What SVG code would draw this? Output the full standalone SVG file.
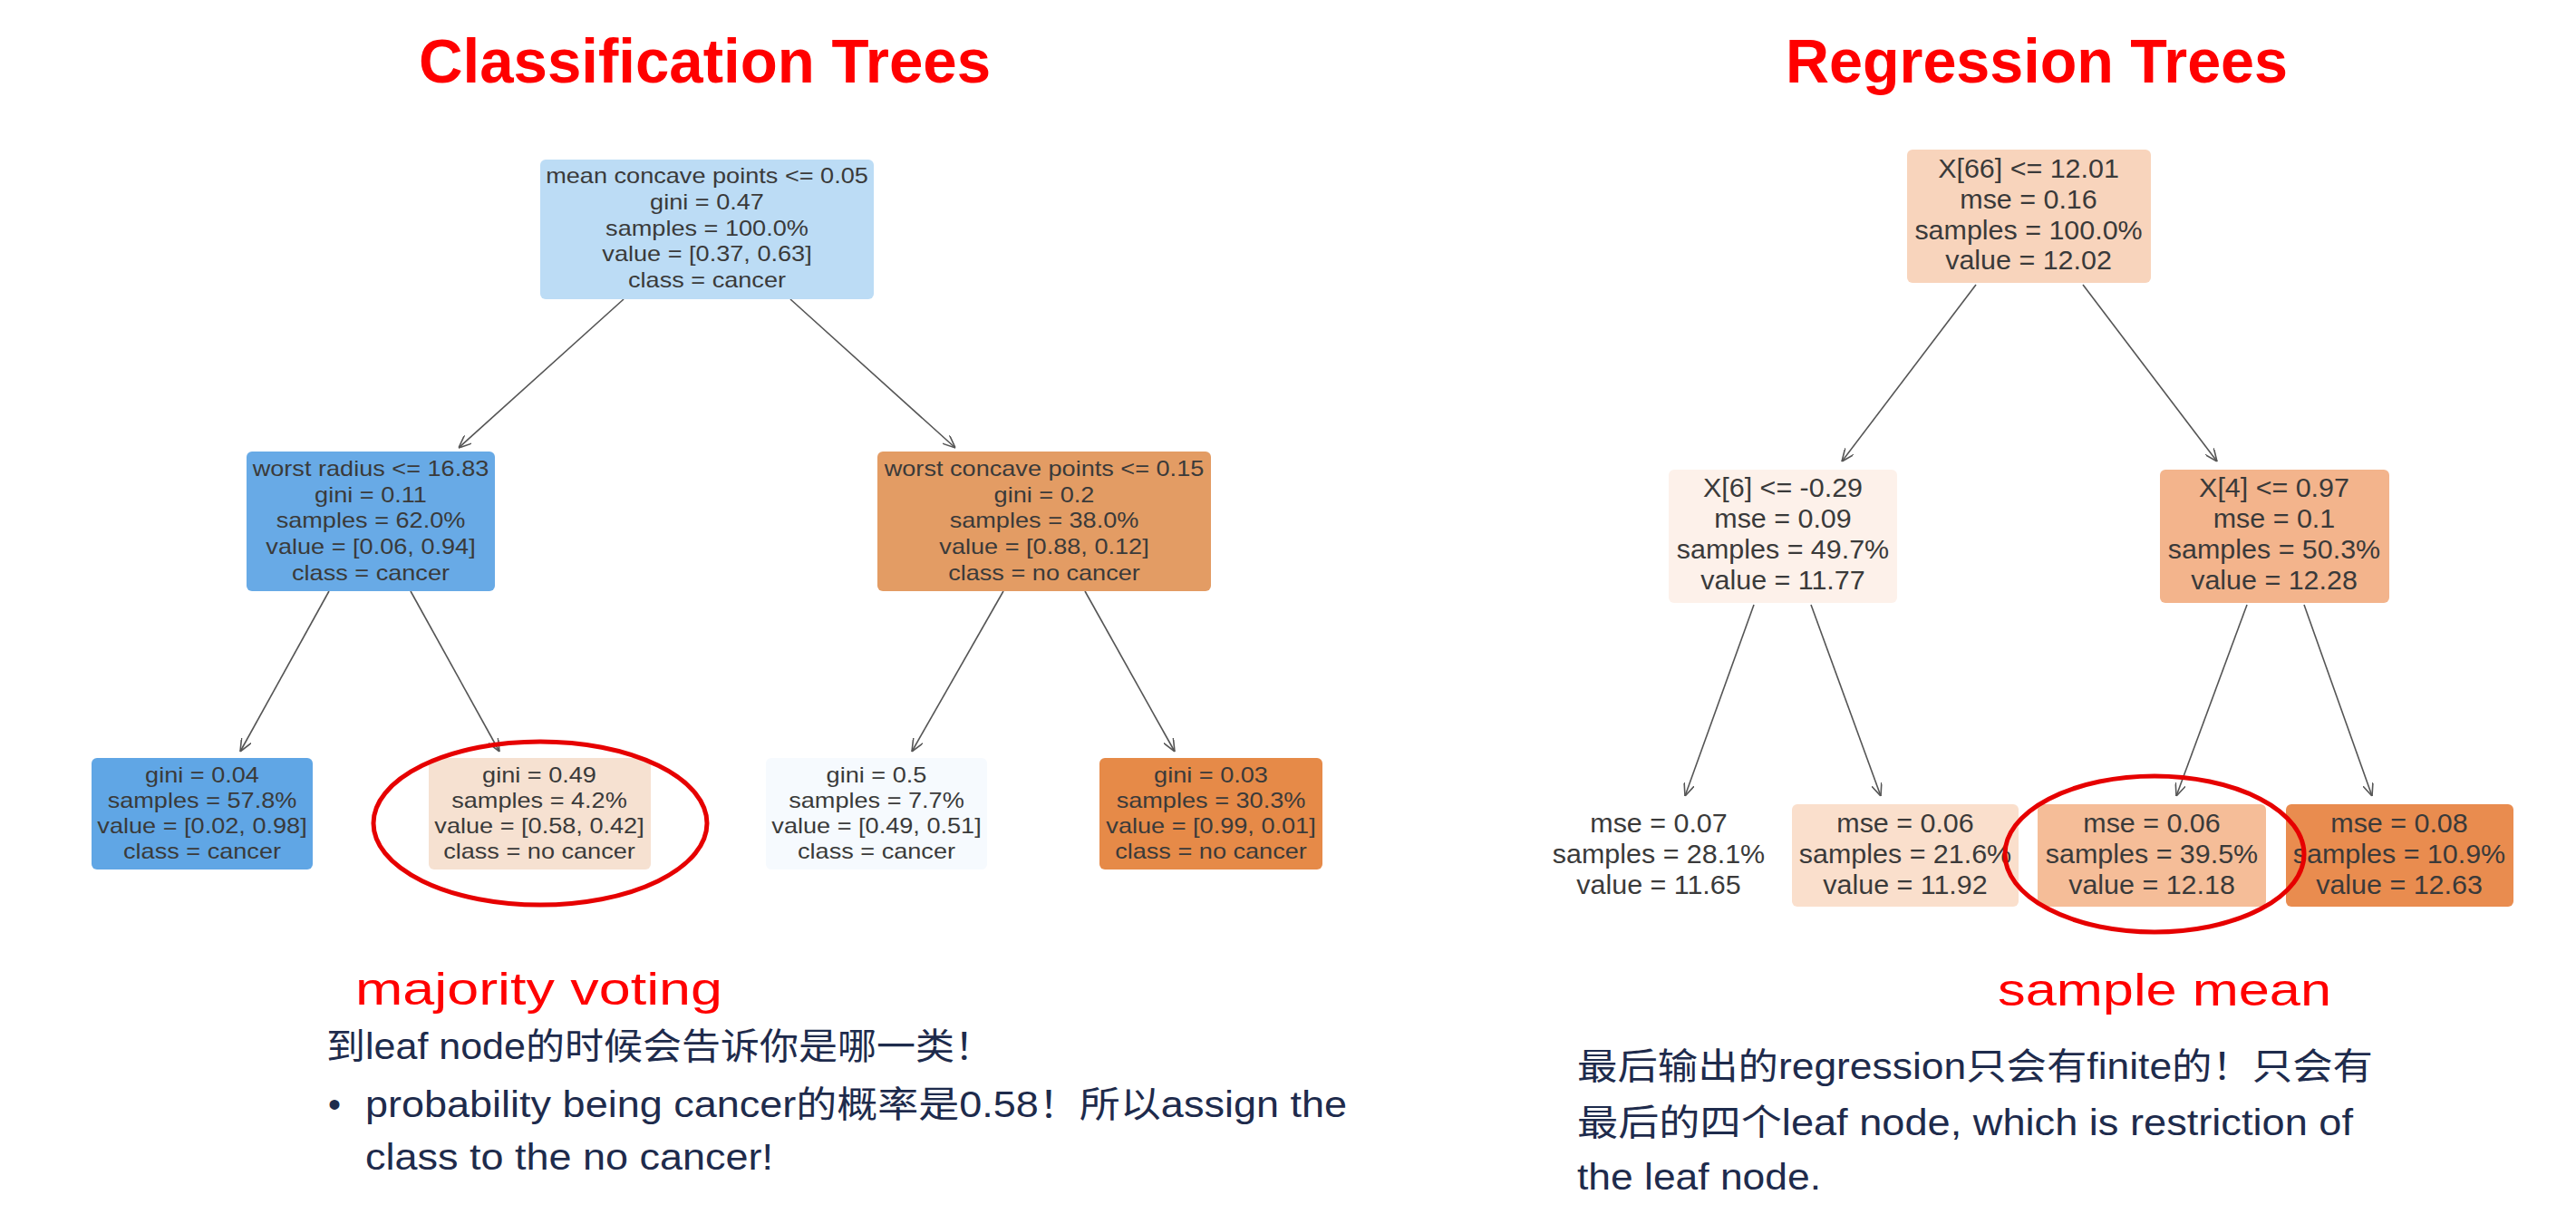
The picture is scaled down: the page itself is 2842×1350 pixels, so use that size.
<svg xmlns="http://www.w3.org/2000/svg" width="2842" height="1350" viewBox="0 0 2842 1350">
<style>
.title{font-family:"Liberation Sans",Arial,sans-serif;font-weight:bold;font-size:68px;fill:#ff0000}
.lt{font-family:"Liberation Sans",Arial,sans-serif;font-size:24px;fill:#3a3a3a;text-anchor:middle}
.rt{font-family:"Liberation Sans",Arial,sans-serif;font-size:29px;fill:#3a3a3a;text-anchor:middle}
.note{font-family:"Liberation Sans",Arial,sans-serif;font-size:50px;fill:#ff0000}
.body{font-family:"Liberation Sans","Noto Sans CJK SC",sans-serif;font-size:40px;fill:#1e2b4c}
.box{stroke:none}
.edge{fill:none;stroke:#555555;stroke-width:1.6}
.ring{fill:none;stroke:#e60000;stroke-width:5}
</style>
<defs>
<marker id="arr" viewBox="0 0 14 12" refX="14" refY="6" markerWidth="14" markerHeight="12" markerUnits="userSpaceOnUse" orient="auto">
<path d="M0,0 L14,6 L0,12" fill="none" stroke="#555555" stroke-width="1.6"/>
</marker>
</defs>
<rect width="2842" height="1350" fill="#ffffff"/>

<text class="title" x="462" y="91" textLength="631" lengthAdjust="spacingAndGlyphs">Classification Trees</text>
<text class="title" x="1970" y="91" textLength="554" lengthAdjust="spacingAndGlyphs">Regression Trees</text>

<g id="connectors">
<line class="edge" x1="688" y1="330" x2="506" y2="494" marker-end="url(#arr)"/>
<line class="edge" x1="872" y1="330" x2="1054" y2="494" marker-end="url(#arr)"/>
<line class="edge" x1="363" y1="652" x2="265" y2="829" marker-end="url(#arr)"/>
<line class="edge" x1="453" y1="652" x2="551" y2="829" marker-end="url(#arr)"/>
<line class="edge" x1="1107" y1="652" x2="1006" y2="829" marker-end="url(#arr)"/>
<line class="edge" x1="1197" y1="652" x2="1296" y2="829" marker-end="url(#arr)"/>
<line class="edge" x1="2180" y1="314" x2="2032" y2="509" marker-end="url(#arr)"/>
<line class="edge" x1="2298" y1="314" x2="2446" y2="509" marker-end="url(#arr)"/>
<line class="edge" x1="1935" y1="667" x2="1859" y2="878" marker-end="url(#arr)"/>
<line class="edge" x1="1998" y1="667" x2="2075" y2="878" marker-end="url(#arr)"/>
<line class="edge" x1="2479" y1="667" x2="2401" y2="878" marker-end="url(#arr)"/>
<line class="edge" x1="2542" y1="667" x2="2617" y2="878" marker-end="url(#arr)"/>
</g>

<!-- Classification tree -->
<g id="c-root">
<rect class="box" x="596" y="176" width="368" height="154" rx="6" fill="#bcdcf5"/>
<g transform="translate(780,0) scale(1.13,1)">
<text class="lt" x="0" y="202">mean concave points &lt;= 0.05</text>
<text class="lt" x="0" y="231">gini = 0.47</text>
<text class="lt" x="0" y="260">samples = 100.0%</text>
<text class="lt" x="0" y="288">value = [0.37, 0.63]</text>
<text class="lt" x="0" y="317">class = cancer</text>
</g>
</g>
<g id="c-worst-radius">
<rect class="box" x="272" y="498" width="274" height="154" rx="6" fill="#68aae6"/>
<g transform="translate(409,0) scale(1.13,1)">
<text class="lt" x="0" y="525">worst radius &lt;= 16.83</text>
<text class="lt" x="0" y="554">gini = 0.11</text>
<text class="lt" x="0" y="582">samples = 62.0%</text>
<text class="lt" x="0" y="611">value = [0.06, 0.94]</text>
<text class="lt" x="0" y="640">class = cancer</text>
</g>
</g>
<g id="c-worst-concave">
<rect class="box" x="968" y="498" width="368" height="154" rx="6" fill="#e39c64"/>
<g transform="translate(1152,0) scale(1.13,1)">
<text class="lt" x="0" y="525">worst concave points &lt;= 0.15</text>
<text class="lt" x="0" y="554">gini = 0.2</text>
<text class="lt" x="0" y="582">samples = 38.0%</text>
<text class="lt" x="0" y="611">value = [0.88, 0.12]</text>
<text class="lt" x="0" y="640">class = no cancer</text>
</g>
</g>
<g id="c-leaf1">
<rect class="box" x="101" y="836" width="244" height="123" rx="6" fill="#60a6e5"/>
<g transform="translate(223,0) scale(1.13,1)">
<text class="lt" x="0" y="863">gini = 0.04</text>
<text class="lt" x="0" y="891">samples = 57.8%</text>
<text class="lt" x="0" y="919">value = [0.02, 0.98]</text>
<text class="lt" x="0" y="947">class = cancer</text>
</g>
</g>
<g id="c-leaf2">
<rect class="box" x="473" y="836" width="245" height="123" rx="6" fill="#f6e1d1"/>
<g transform="translate(595,0) scale(1.13,1)">
<text class="lt" x="0" y="863">gini = 0.49</text>
<text class="lt" x="0" y="891">samples = 4.2%</text>
<text class="lt" x="0" y="919">value = [0.58, 0.42]</text>
<text class="lt" x="0" y="947">class = no cancer</text>
</g>
</g>
<g id="c-leaf3">
<rect class="box" x="845" y="836" width="244" height="123" rx="6" fill="#f6fafe"/>
<g transform="translate(967,0) scale(1.13,1)">
<text class="lt" x="0" y="863">gini = 0.5</text>
<text class="lt" x="0" y="891">samples = 7.7%</text>
<text class="lt" x="0" y="919">value = [0.49, 0.51]</text>
<text class="lt" x="0" y="947">class = cancer</text>
</g>
</g>
<g id="c-leaf4">
<rect class="box" x="1213" y="836" width="246" height="123" rx="6" fill="#e68a48"/>
<g transform="translate(1336,0) scale(1.13,1)">
<text class="lt" x="0" y="863">gini = 0.03</text>
<text class="lt" x="0" y="891">samples = 30.3%</text>
<text class="lt" x="0" y="919">value = [0.99, 0.01]</text>
<text class="lt" x="0" y="947">class = no cancer</text>
</g>
</g>

<!-- Regression tree -->
<g id="r-root">
<rect class="box" x="2104" y="165" width="269" height="147" rx="6" fill="#f8d4bc"/>
<g transform="translate(2238,0) scale(1.05,1)">
<text class="rt" x="0" y="196">X[66] &lt;= 12.01</text>
<text class="rt" x="0" y="230">mse = 0.16</text>
<text class="rt" x="0" y="264">samples = 100.0%</text>
<text class="rt" x="0" y="297">value = 12.02</text>
</g>
</g>
<g id="r-x6">
<rect class="box" x="1841" y="518" width="252" height="147" rx="6" fill="#fdf1ea"/>
<g transform="translate(1967,0) scale(1.05,1)">
<text class="rt" x="0" y="548">X[6] &lt;= -0.29</text>
<text class="rt" x="0" y="582">mse = 0.09</text>
<text class="rt" x="0" y="616">samples = 49.7%</text>
<text class="rt" x="0" y="650">value = 11.77</text>
</g>
</g>
<g id="r-x4">
<rect class="box" x="2383" y="518" width="253" height="147" rx="6" fill="#f3b48c"/>
<g transform="translate(2509,0) scale(1.05,1)">
<text class="rt" x="0" y="548">X[4] &lt;= 0.97</text>
<text class="rt" x="0" y="582">mse = 0.1</text>
<text class="rt" x="0" y="616">samples = 50.3%</text>
<text class="rt" x="0" y="650">value = 12.28</text>
</g>
</g>
<g id="r-leaf1">
<rect class="box" x="1705" y="887" width="250" height="113" rx="6" fill="#ffffff"/>
<g transform="translate(1830,0) scale(1.05,1)">
<text class="rt" x="0" y="918">mse = 0.07</text>
<text class="rt" x="0" y="952">samples = 28.1%</text>
<text class="rt" x="0" y="986">value = 11.65</text>
</g>
</g>
<g id="r-leaf2">
<rect class="box" x="1977" y="887" width="250" height="113" rx="6" fill="#fadfcc"/>
<g transform="translate(2102,0) scale(1.05,1)">
<text class="rt" x="0" y="918">mse = 0.06</text>
<text class="rt" x="0" y="952">samples = 21.6%</text>
<text class="rt" x="0" y="986">value = 11.92</text>
</g>
</g>
<g id="r-leaf3">
<rect class="box" x="2248" y="887" width="252" height="113" rx="6" fill="#f5bd98"/>
<g transform="translate(2374,0) scale(1.05,1)">
<text class="rt" x="0" y="918">mse = 0.06</text>
<text class="rt" x="0" y="952">samples = 39.5%</text>
<text class="rt" x="0" y="986">value = 12.18</text>
</g>
</g>
<g id="r-leaf4">
<rect class="box" x="2522" y="887" width="251" height="113" rx="6" fill="#e98c4f"/>
<g transform="translate(2647,0) scale(1.05,1)">
<text class="rt" x="0" y="918">mse = 0.08</text>
<text class="rt" x="0" y="952">samples = 10.9%</text>
<text class="rt" x="0" y="986">value = 12.63</text>
</g>
</g>

<g id="highlights">
<ellipse class="ring" cx="596" cy="908" rx="184" ry="90"/>
<ellipse class="ring" cx="2377" cy="942" rx="165" ry="86"/>
</g>

<g id="notes">
<text class="note" x="392" y="1108" textLength="405" lengthAdjust="spacingAndGlyphs">majority voting</text>
<text class="note" x="2204" y="1109" textLength="368" lengthAdjust="spacingAndGlyphs">sample mean</text>
<text class="body" x="360" y="1168" textLength="736" lengthAdjust="spacingAndGlyphs">到leaf node的时候会告诉你是哪一类！</text>
<text class="body" x="362" y="1232">•</text>
<text class="body" x="403" y="1232" textLength="1083" lengthAdjust="spacingAndGlyphs">probability being cancer的概率是0.58！所以assign the</text>
<text class="body" x="403" y="1290" textLength="450" lengthAdjust="spacingAndGlyphs">class to the no cancer!</text>
<text class="body" x="1740" y="1190" textLength="878" lengthAdjust="spacingAndGlyphs">最后输出的regression只会有finite的！只会有</text>
<text class="body" x="1740" y="1252" textLength="856" lengthAdjust="spacingAndGlyphs">最后的四个leaf node, which is restriction of</text>
<text class="body" x="1740" y="1312" textLength="269" lengthAdjust="spacingAndGlyphs">the leaf node.</text>
</g>
</svg>
